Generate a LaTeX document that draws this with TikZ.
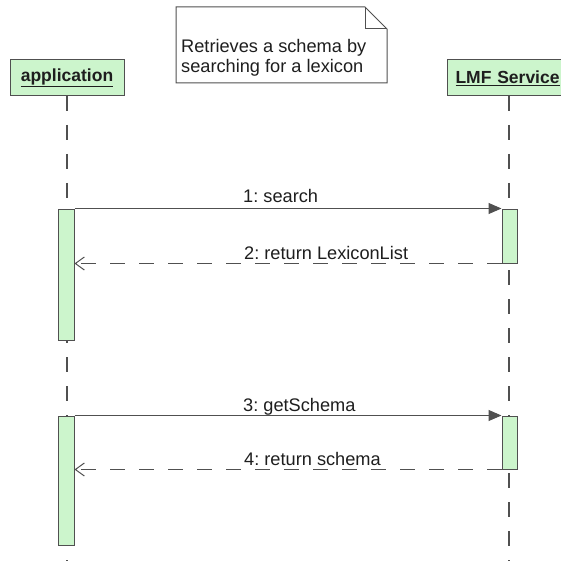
\documentclass[tikz,border=0pt]{standalone}
\usepackage{fontspec}
\setmainfont{Liberation Sans}
\frenchspacing
\usetikzlibrary{arrows.meta}
\definecolor{actfill}{RGB}{204,245,204}
\definecolor{edge}{RGB}{80,80,80}
\definecolor{ink}{RGB}{30,30,30}
\tikzset{
  actor/.style={draw=edge, fill=actfill, line width=1pt, minimum height=36pt,
    inner sep=0pt, font=\fontsize{17.5}{21}\selectfont\bfseries, text=ink},
  bar/.style={draw=edge, fill=actfill, line width=1pt, inner sep=0pt},
  life/.style={draw=edge, line width=1.1pt, dash pattern=on 15pt off 14pt},
  call/.style={draw=edge, line width=1pt, -{Triangle[length=13pt,width=11pt]}},
  reply/.style={draw=edge, line width=1pt, dash pattern=on 15pt off 14pt,
    -{Straight Barb[length=9pt,width=13pt,line width=1pt]}},
  lbl/.style={anchor=base west, inner sep=0pt, font=\fontsize{18.2}{21}\selectfont, text=ink},
  notebox/.style={draw=edge, fill=white, line width=1pt},
}
\begin{document}
\begin{tikzpicture}[x=1pt, y=-1pt]
\useasboundingbox (0,0) rectangle (561,561);
\clip (0,0) rectangle (561,561);
\fill[white] (0,0) rectangle (561,561);

% comment note with folded corner
\draw[notebox] (176,7) -- (365,7) -- (387,29) -- (387,83) -- (176,83) -- cycle;
\draw[draw=edge, line width=1pt] (365,7) -- (365,29) -- (387,29);
\node[lbl, anchor=west, align=left, font=\fontsize{18.2}{19.5}\selectfont] (note) at (181,58) {Retrieves a schema by\\searching for a lexicon};

% participants
\node[actor, minimum width=114pt] (app) at (67,78) {\underline{application}};
\node[actor, anchor=west, text width=120pt, align=left, inner xsep=8pt] (lmf) at (447,78) {\underline{LMF Service}};

% lifelines
\coordinate (appTop) at (67,96);
\coordinate (appEnd) at (67,561);
\coordinate (lmfTop) at (509,96);
\coordinate (lmfEnd) at (509,561);
\draw[life] (appTop) -- (appEnd);
\draw[life] (lmfTop) -- (lmfEnd);

% activation bars
\node[bar, minimum width=16pt, minimum height=131pt] (app1) at (66,274.5) {};
\node[bar, minimum width=15pt, minimum height=54pt] (lmf1) at (509.5,236) {};
\node[bar, minimum width=16pt, minimum height=129pt] (app2) at (66,480.5) {};
\node[bar, minimum width=15pt, minimum height=53pt] (lmf2) at (509.5,442.5) {};

% messages
\draw[call] (app1.north east) -- (lmf1.north west);
\node[lbl] (m1) at (243,203) {1: search};
\draw[reply] (lmf1.south west) -- (app1.east |- lmf1.south west);
\node[lbl] (m2) at (244,259) {2: return LexiconList};

\draw[call] (app2.north east) -- (lmf2.north west);
\node[lbl] (m3) at (243,411) {3: getSchema};
\draw[reply] (lmf2.south west) -- (app2.east |- lmf2.south west);
\node[lbl] (m4) at (244,465) {4: return schema};
\end{tikzpicture}
\end{document}
